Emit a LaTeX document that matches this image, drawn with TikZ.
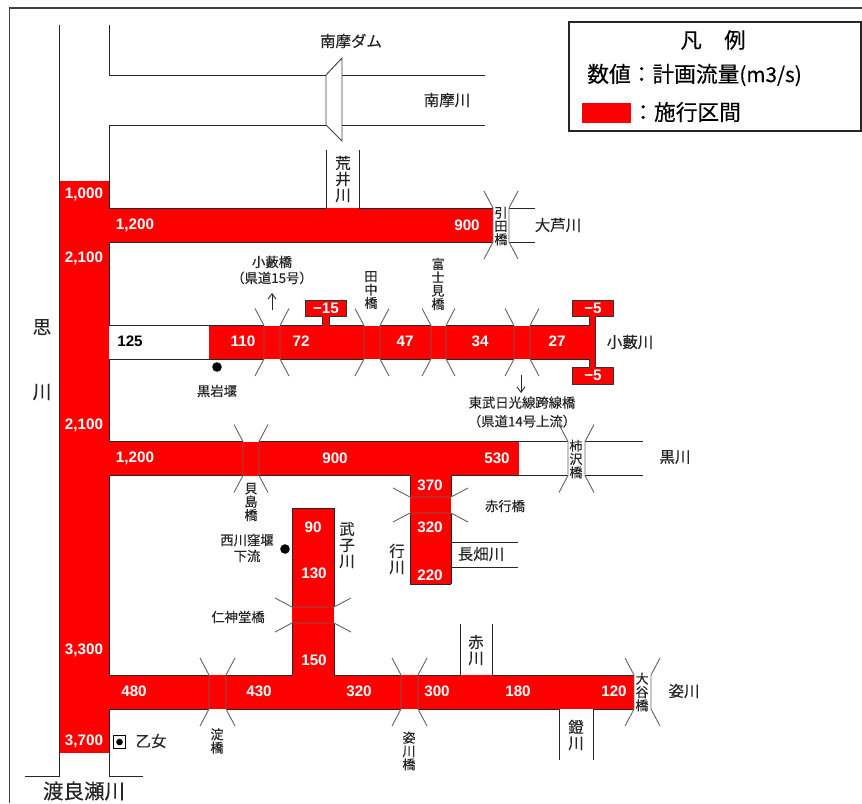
\documentclass[tikz,border=0pt]{standalone}
\usepackage{fontspec}
\usetikzlibrary{arrows.meta}
\setmainfont[FakeBold=0.25]{Noto Sans CJK JP}
\newfontfamily\latinf{Liberation Sans}
\newcommand{\fs}[1]{\fontsize{#1}{#1}\selectfont}
\newcommand{\fsb}[2]{\fontsize{#1}{#2}\selectfont}
\tikzset{
  rv/.style={draw=black!85,line width=0.72pt},
  brg/.style={draw=black!60,line width=0.7pt},
  num/.style={text=white,inner sep=0pt,font=\latinf\bfseries\fs{11.4}},
  lab/.style={inner sep=0pt,align=center,text=black!85,font=\fsb{11.6}{12}},
  sm/.style={inner sep=0pt,align=center,text=black!85,font=\fsb{10}{12}},
  smv/.style={inner sep=0pt,align=center,text=black!85,font=\fsb{9.8}{10}},
  dotm/.style={circle,fill=black,inner sep=0pt,minimum size=7.2pt},
  box/.style={fill=red,draw=black!80,line width=0.7pt},
  arr/.style={-{Straight Barb[length=4pt,width=6pt]},line width=0.65pt,black!85}
}
% vertical bridge: x1 x2 ytop ybot (river), tips extend 9 left/right and 17 up/down
\newcommand{\brV}[4]{%
  \draw[brg] (#1-9,#3-17) -- (#1,#3) -- (#1,#4) -- (#1-9,#4+17);
  \draw[brg] (#2+9,#3-17) -- (#2,#3) -- (#2,#4) -- (#2+9,#4+17);}
\newcommand{\brH}[4]{%
  \draw[brg] (#1-17,#3-9) -- (#1,#3) -- (#2,#3) -- (#2+17,#3-9);
  \draw[brg] (#1-17,#4+9) -- (#1,#4) -- (#2,#4) -- (#2+17,#4+9);}
\begin{document}
\begin{tikzpicture}[x=0.75pt,y=-0.75pt]
\useasboundingbox (0,0) rectangle (862,803);
% frame
\draw[draw=black!75,line width=0.8pt] (9.5,803) -- (9.5,8) -- (862,8);
% red areas
\fill[red] (59,181) rectangle (109,753);
\fill[red] (109,208) rectangle (493,242);
\fill[red] (209,325.5) rectangle (595,359);
\fill[red] (109,441.5) rectangle (519,475.5);
\fill[red] (410,475) rectangle (451,584);
\fill[red] (292,508.5) rectangle (334,676);
\fill[red] (109,675) rectangle (634,709);
% river lines
\draw[rv] (59,25) -- (59,776) -- (25,776);
\draw[rv] (109,25) -- (109,75) -- (326,75);
\draw[rv] (109,208) -- (109,125) -- (326,125);
\draw[rv] (342,75) -- (485,75);
\draw[rv] (342,125) -- (485,125);
\draw[draw=black!75,line width=0.7pt] (326,75) -- (342,58) -- (342,141) -- (326,125) -- cycle;
\draw[rv] (326,150) -- (326,208);
\draw[rv] (359,150) -- (359,208);
\draw[rv] (109,208) -- (326,208) (359,208) -- (493,208);
\draw[rv] (109,325.5) -- (109,242) -- (493,242);
\draw[rv] (509,208) -- (535,208);
\draw[rv] (509,242) -- (535,242);
\draw[rv] (109,325.5) -- (264,325.5) (280,325.5) -- (322,325.5) (329,325.5) -- (364,325.5) (380,325.5) -- (431,325.5) (446,325.5) -- (514,325.5) (530,325.5) -- (589,325.5);
\draw[rv] (109,441.5) -- (109,359) -- (264,359) (280,359) -- (364,359) (380,359) -- (431,359) (446,359) -- (514,359) (530,359) -- (589,359);
\draw[rv] (109,441.5) -- (243,441.5) (259,441.5) -- (568,441.5) (585,441.5) -- (643,441.5);
\draw[rv] (109,675) -- (109,475.5) -- (243,475.5) (259,475.5) -- (410,475.5) -- (410,497);
\draw[rv] (451,475.5) -- (568,475.5) (585,475.5) -- (643,475.5);
\draw[rv] (410,513) -- (410,584) -- (451,584);
\draw[rv] (451,475.5) -- (451,497) (451,513) -- (451,584);
\draw[rv] (451,542) -- (518,542);
\draw[rv] (451,567) -- (518,567);
\draw[rv] (292,675) -- (292,623) (292,607) -- (292,508.5) -- (334,508.5) -- (334,607) (334,623) -- (334,675);
\draw[rv] (109,675) -- (209,675) (226,675) -- (292,675) (334,675) -- (401,675) (418,675) -- (460,675) (492,675) -- (634,675);
\draw[rv] (460,624) -- (460,675);
\draw[rv] (492,624) -- (492,675);
\draw[rv] (109,709) -- (209,709) (226,709) -- (401,709) (418,709) -- (559,709) (593,709) -- (634,709);
\draw[rv] (559,709) -- (559,760);
\draw[rv] (593,709) -- (593,760);
\draw[rv] (109,709) -- (109,776) -- (143,776);
% bridges
\brV{264}{280}{325.5}{359}
\brV{364}{380}{325.5}{359}
\brV{431}{446}{325.5}{359}
\brV{514}{530}{325.5}{359}
\brV{493}{509}{208}{242}
\brV{243}{259}{441.5}{475.5}
\brV{568}{585}{441.5}{475.5}
\brV{209}{226}{675}{709}
\brV{401}{418}{675}{709}
\brV{634}{651}{675}{709}
\brH{410}{451}{497}{513}
\brH{292}{334}{607}{623}
% outflow boxes
\draw[box] (322,325.5) -- (322,316) -- (305,316) -- (305,300) -- (346,300) -- (346,316) -- (329,316) -- (329,325.5);
\fill[red] (322.5,316) rectangle (328.5,327);
\draw[box] (589,325.5) -- (589,316) -- (572,316) -- (572,300) -- (613,300) -- (613,316) -- (595.5,316) -- (595.5,367) -- (613,367) -- (613,384) -- (572,384) -- (572,367) -- (589,367) -- (589,359);
\fill[red] (589.5,316) rectangle (595,367);
% arrows
\coordinate (a1) at (272,310); \coordinate (a2) at (272,293);
\draw[arr] (a1) -- (a2);
\coordinate (b1) at (521,375); \coordinate (b2) at (521,393);
\draw[arr] (b1) -- (b2);
% dots
\node[dotm] (d1) at (217,367) {};
\node[dotm] (d2) at (285,549) {};
\node[draw=black,line width=0.8pt,fill=white,minimum size=9.5pt,inner sep=0pt] (ot) at (119.5,742) {};
\node[circle,fill=black,inner sep=0pt,minimum size=5pt] (otd) at (119.5,742) {};
% numbers
\node[num] (n1) at (84,194) {1,000};
\node[num] (n2) at (135,225) {1,200};
\node[num] (n3) at (467,225) {900};
\node[num] (n4) at (84,258) {2,100};
\node[num] (n5) at (84,425) {2,100};
\node[num,text=black] (n6) at (130,341) {125};
\node[num] (n7) at (243,341) {110};
\node[num] (n8) at (301,341) {72};
\node[num] (n9) at (326,308) {−15};
\node[num] (n10) at (405,341) {47};
\node[num] (n11) at (480,341) {34};
\node[num] (n12) at (557,341) {27};
\node[num] (n13) at (593,308) {−5};
\node[num] (n14) at (593,375) {−5};
\node[num] (n15) at (135,458) {1,200};
\node[num] (n16) at (335,458) {900};
\node[num] (n17) at (497,458) {530};
\node[num] (n18) at (430,485) {370};
\node[num] (n19) at (430,527) {320};
\node[num] (n20) at (430,575) {220};
\node[num] (n21) at (313,527) {90};
\node[num] (n22) at (314,573) {130};
\node[num] (n23) at (314,660) {150};
\node[num] (n24) at (84,650) {3,300};
\node[num] (n25) at (134,691) {480};
\node[num] (n26) at (259,691) {430};
\node[num] (n27) at (359,691) {320};
\node[num] (n28) at (437,691) {300};
\node[num] (n29) at (518,691) {180};
\node[num] (n30) at (614,691) {120};
\node[num] (n31) at (84,741) {3,700};
% labels
\node[lab] (t1) at (351,41) {南摩ダム};
\node[lab] (t2) at (447,100) {南摩川};
\node[lab] (t3) at (343,179) {荒\\井\\川};
\node[lab] (t4) at (558,225) {大芦川};
\node[lab] (t5) at (630,342) {小藪川};
\node[lab] (t6) at (675,457) {黒川};
\node[lab] (t7) at (684,691) {姿川};
\node[lab] (t8) at (481,554) {長畑川};
\node[lab] (t9) at (347,545) {武\\子\\川};
\node[lab] (t10) at (397,559) {行\\川};
\node[lab] (t11) at (476,650) {赤\\川};
\node[lab] (t12) at (576,735) {鐙\\川};
\node[lab,font=\fs{14}] (t13) at (42,327) {思};
\node[lab,font=\fs{14}] (t14) at (42,392) {川};
\node[lab,font=\fs{15.4}] (t15) at (84,791) {渡良瀬川};
\node[lab] (t16) at (151,741) {乙女};
\node[sm] (s1) at (272,270) {小藪橋\\（県道15号）};
\node[sm] (s2) at (217,391) {黒岩堰};
\node[sm,font=\fsb{10}{14}] (s3) at (522,412) {東武日光線跨線橋\\（県道14号上流）};
\node[sm] (s4) at (247,548) {西川窪堰\\下流};
\node[sm] (s5) at (238,617) {仁神堂橋};
\node[sm] (s6) at (505,506) {赤行橋};
\node[smv] (v1) at (371,290) {田\\中\\橋};
\node[smv] (v2) at (438,284) {富\\士\\見\\橋};
\node[smv] (v3) at (501,226) {引\\田\\橋};
\node[smv] (v4) at (251,502) {貝\\島\\橋};
\node[smv] (v5) at (576,459) {柿\\沢\\橋};
\node[smv] (v6) at (217,741) {淀\\橋};
\node[smv] (v7) at (409,751) {姿\\川\\橋};
\node[smv] (v8) at (642,692) {大\\谷\\橋};
% legend
\node[draw=black!85,line width=0.9pt,minimum width=219pt,minimum height=81.75pt,inner sep=0pt] (lg) at (715,76.5) {};
\node[inner sep=0pt,font=\fs{16}] (lt) at (713,40) {凡\hspace{1.05em}例};
\node[anchor=west,inner sep=0pt,font=\fs{16.3}] (l1) at (587,75) {数値：計画流量{\fs{15.5}(m3/s)}};
\fill[red] (582,103) rectangle (631,123);
\node[anchor=west,inner sep=0pt,font=\fs{16.3}] (l2) at (632,112) {：施行区間};
\end{tikzpicture}
\end{document}
